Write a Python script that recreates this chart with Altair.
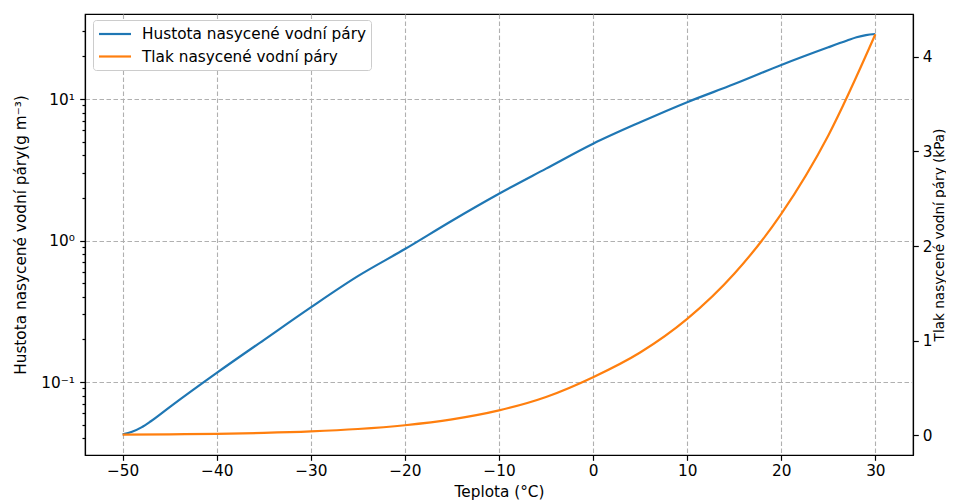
import altair as alt
import pandas as pd

# ---- data ----
series_names = ["Hustota nasycené vodní páry", "Tlak nasycené vodní páry"]

temps_density = [-50, -49, -48, -47, -45, -40, -35, -30, -25, -20, -15, -10, -5,
                 0, 5, 10, 15, 20, 25, 27, 28, 29, 30]
density_values = [0.0427, 0.0445, 0.0478, 0.0528, 0.0665, 0.116, 0.198, 0.337,
                  0.56, 0.87, 1.38, 2.14, 3.22, 4.83, 6.85, 9.5, 12.75, 17.4,
                  23.2, 25.9, 27.3, 28.3, 28.8]

temps_pressure = [-50, -45, -40, -35, -30, -25, -20, -15, -10, -5, 0, 5, 10, 15,
                  20, 25, 30]
pressure_values = [0.0039, 0.0072, 0.0128, 0.0223, 0.038, 0.0633, 0.1035, 0.1652,
                   0.26, 0.4019, 0.6112, 0.8726, 1.2282, 1.7058, 2.3393, 3.1699,
                   4.24]

x_ticks = [-50, -40, -30, -20, -10, 0, 10, 20, 30]
left_ticks = [0.04, 0.05, 0.06, 0.07, 0.08, 0.09, 0.1,
              0.2, 0.3, 0.4, 0.5, 0.6, 0.7, 0.8, 0.9, 1,
              2, 3, 4, 5, 6, 7, 8, 9, 10, 20, 30]
right_ticks = [0, 1, 2, 3, 4]

df_d = pd.DataFrame({"T": temps_density, "value": density_values,
                     "serie": series_names[0]})
df_p = pd.DataFrame({"T": temps_pressure, "value": pressure_values,
                     "serie": series_names[1]})

FONT = "DejaVu Sans"
FS = 15.3
common_axis = dict(domainColor="black", domainWidth=1.2, tickColor="black",
                   tickWidth=1.2, labelFont=FONT, labelFontSize=FS,
                   labelColor="black", titleFont=FONT,
                   titleColor="black", titleFontWeight="normal",
                   labelOverlap=False)

x_enc = alt.X("T:Q",
              scale=alt.Scale(domain=[-54, 34], nice=False, zero=False),
              axis=alt.Axis(values=x_ticks, title="Teplota (°C)", grid=True,
                            gridColor="#b0b0b0", gridDash=[4.5, 2.5],
                            gridWidth=1.1, tickSize=5.3, labelPadding=3.5,
                            titlePadding=5, titleFontSize=FS, **common_axis))

legend = alt.Legend(title=None, orient="none", legendX=8, legendY=6,
                    symbolType="M-1,0H3", symbolSize=256,
                    symbolStrokeWidth=2.2, labelOffset=25.5, padding=4.5,
                    rowPadding=4.5, fillColor="white", strokeColor="#cccccc",
                    cornerRadius=3, labelFont=FONT, labelFontSize=FS,
                    labelColor="black", labelLimit=0)
color_enc = alt.Color("serie:N",
                      scale=alt.Scale(domain=series_names,
                                      range=["#1f77b4", "#ff7f0e"]),
                      legend=legend)

major_test = "datum.value == 0.1 || datum.value == 1 || datum.value == 10"

dens = alt.Chart(df_d).mark_line(strokeWidth=2.2, interpolate="monotone").encode(
    x=x_enc,
    y=alt.Y("value:Q",
            scale=alt.Scale(type="log", domain=[0.03049, 39.88], nice=False),
            axis=alt.Axis(orient="left", values=left_ticks,
                          labelExpr="datum.value == 10 ? '10¹' : datum.value == 1 ? '10⁰' : datum.value == 0.1 ? '10⁻¹' : ''",
                          tickSize={"condition": {"test": major_test, "value": 5.3}, "value": 3},
                          grid=True, gridColor="#b0b0b0", gridDash=[4.5, 2.5],
                          gridWidth=1.1,
                          gridOpacity={"condition": {"test": major_test, "value": 1}, "value": 0},
                          labelPadding=5.3,
                          title="Hustota nasycené vodní páry(g m⁻³)",
                          titleFontSize=FS, titlePadding=12, **common_axis)),
    color=color_enc,
)

pres = alt.Chart(df_p).mark_line(strokeWidth=2.2, interpolate="monotone").encode(
    x=x_enc,
    y=alt.Y("value:Q",
            scale=alt.Scale(domain=[-0.2116, 4.455], nice=False, zero=False),
            axis=alt.Axis(orient="right", values=right_ticks, grid=False,
                          tickSize=5.3, labelPadding=4,
                          title="Tlak nasycené vodní páry (kPa)",
                          titleFontSize=13.6,
                          titleAngle=270, titleBaseline="top",
                          titlePadding=0, **common_axis)),
    color=color_enc,
)

chart = alt.layer(dens, pres).resolve_scale(y="independent").properties(
    width=828, height=441,
    autosize=alt.AutoSizeParams(type="none"),
    padding={"left": 77, "top": 6, "right": 33, "bottom": 46},
).configure_view(stroke="black", strokeWidth=1.2)

chart.save("out.html", embed_options={"renderer": "svg", "actions": False})
